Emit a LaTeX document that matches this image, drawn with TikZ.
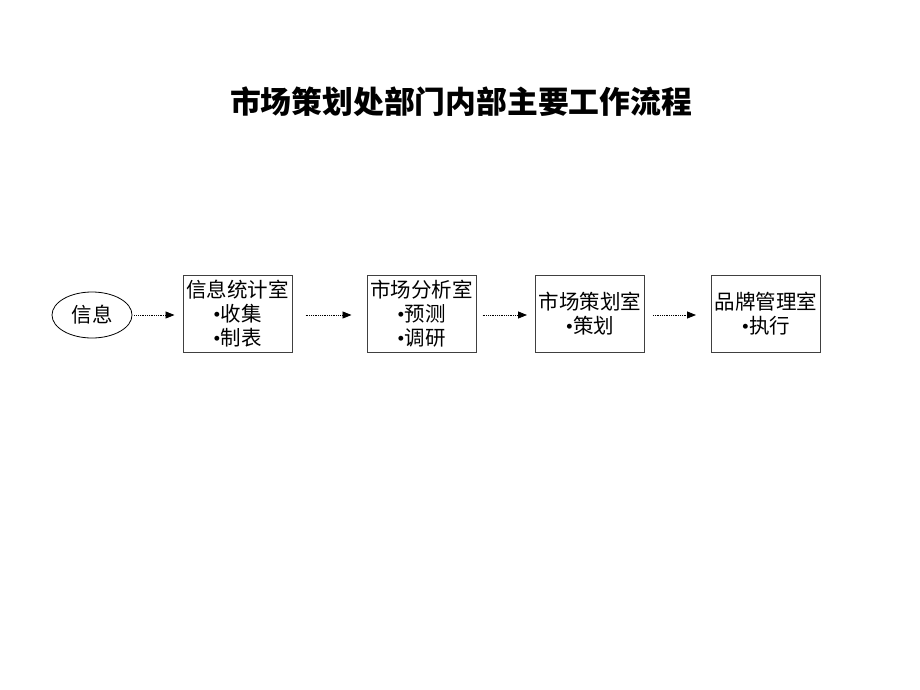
\documentclass[tikz,border=0pt]{standalone}
\usepackage{fontspec}
\setmainfont{Noto Sans CJK SC}
\newfontfamily\dotfont{Liberation Serif}
\usepackage{tikz}
\usetikzlibrary{arrows.meta,shapes.geometric}

\newcommand{\itm}{{\dotfont•}}

\tikzset{
  room/.style={draw=black!75, line width=1pt, minimum width=109pt, minimum height=77pt,
    align=center, inner sep=0pt, font=\fontsize{20.5}{24}\selectfont},
  flow/.style={densely dotted, line width=0.8pt, -{Triangle[length=9pt,width=7pt]}}
}

\begin{document}
\begin{tikzpicture}[x=1pt,y=-1pt]

\useasboundingbox (0,0) rectangle (920,690);

\node[font=\bfseries\fontsize{30.8}{32}\selectfont] (title) at (461,102) {市场策划处部门内部主要工作流程};

\node[draw, ellipse, line width=0.8pt, minimum width=80pt, minimum height=46pt,
  inner sep=0pt, font=\fontsize{20.5}{24}\selectfont] (info) at (92,315) {信息};

\node[room] (stat) at (237.5,313.5) {信息统计室\\\itm 收集\\\itm 制表};
\node[room] (anal) at (421.5,313.5) {市场分析室\\\itm 预测\\\itm 调研};
\node[room] (plan) at (590,313.5) {市场策划室\\\itm 策划};
\node[room] (brand) at (766,313.5) {品牌管理室\\\itm 执行};

\draw[flow, shorten <=2pt, shorten >=8pt] (info.east) -- (stat.west |- info.east);
\draw[flow, shorten <=13pt, shorten >=15pt] (stat.east |- info.east) -- (anal.west |- info.east);
\draw[flow, shorten <=6pt, shorten >=8pt] (anal.east |- info.east) -- (plan.west |- info.east);
\draw[flow, shorten <=8pt, shorten >=15pt] (plan.east |- info.east) -- (brand.west |- info.east);

\end{tikzpicture}
\end{document}
